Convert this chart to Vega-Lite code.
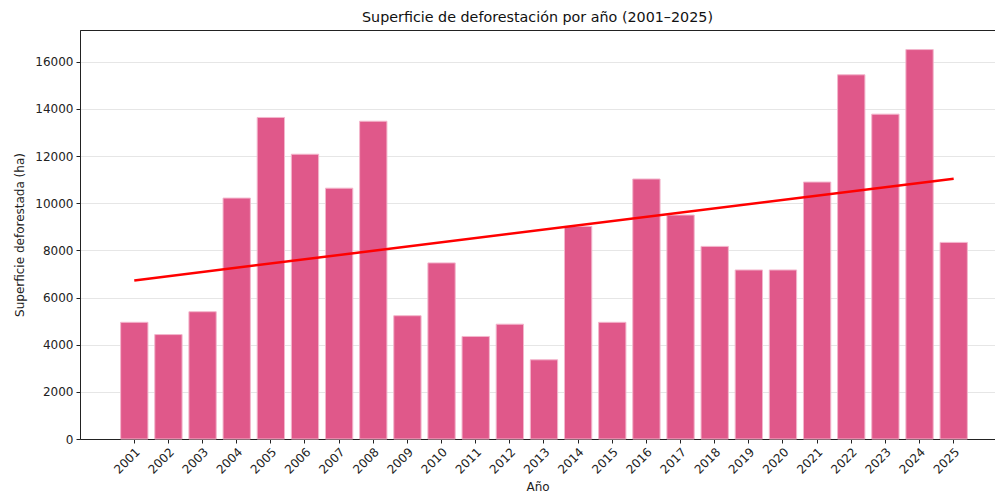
{
  "$schema": "https://vega.github.io/schema/vega-lite/v6.json",
  "width": 915,
  "height": 409,
  "autosize": {"type": "none"},
  "padding": {"left": 80, "top": 30, "right": 0, "bottom": 55},
  "background": "white",
  "config": {
    "font": "DejaVu Sans",
    "view": {"stroke": "#222", "strokeWidth": 1},
    "axis": {
      "labelFont": "DejaVu Sans",
      "titleFont": "DejaVu Sans",
      "labelFontSize": 12,
      "titleFontSize": 12,
      "titleFontWeight": "normal",
      "labelColor": "#222",
      "titleColor": "#222",
      "domainColor": "#222",
      "tickColor": "#222",
      "tickSize": 4,
      "labelPadding": 3
    }
  },
  "title": {
    "text": "Superficie de deforestación por año (2001–2025)",
    "font": "DejaVu Sans",
    "fontSize": 14.3,
    "fontWeight": "normal",
    "color": "#111",
    "offset": 5,
    "anchor": "middle"
  },
  "data": {
    "values": [
      {"year": 2001, "area": 4950},
      {"year": 2002, "area": 4430},
      {"year": 2003, "area": 5400},
      {"year": 2004, "area": 10220},
      {"year": 2005, "area": 13640},
      {"year": 2006, "area": 12080},
      {"year": 2007, "area": 10640},
      {"year": 2008, "area": 13480},
      {"year": 2009, "area": 5230},
      {"year": 2010, "area": 7470},
      {"year": 2011, "area": 4350},
      {"year": 2012, "area": 4870},
      {"year": 2013, "area": 3360},
      {"year": 2014, "area": 9020},
      {"year": 2015, "area": 4950},
      {"year": 2016, "area": 11030},
      {"year": 2017, "area": 9500},
      {"year": 2018, "area": 8170},
      {"year": 2019, "area": 7170},
      {"year": 2020, "area": 7170},
      {"year": 2021, "area": 10900},
      {"year": 2022, "area": 15450},
      {"year": 2023, "area": 13780},
      {"year": 2024, "area": 16520},
      {"year": 2025, "area": 8340}
    ]
  },
  "encoding": {
    "x": {
      "field": "year",
      "type": "ordinal",
      "title": "Año",
      "scale": {"paddingInner": 0.2, "paddingOuter": 1.044, "align": 0.595},
      "axis": {"labelAngle": -45, "labelAlign": "right", "labelBaseline": "top", "titlePadding": 6, "grid": false}
    },
    "y": {
      "field": "area",
      "type": "quantitative",
      "title": "Superficie deforestada (ha)",
      "scale": {"domain": [0, 17350], "nice": false},
      "axis": {"values": [0, 2000, 4000, 6000, 8000, 10000, 12000, 14000, 16000], "format": "d", "grid": true, "gridColor": "#e6e6e6", "gridWidth": 1, "titlePadding": 8}
    }
  },
  "layer": [
    {
      "mark": {"type": "bar", "color": "#E0588A", "stroke": "#f3b6cc", "strokeWidth": 1}
    },
    {
      "transform": [{"regression": "area", "on": "year", "method": "linear"}],
      "mark": {"type": "line", "color": "#ff0000", "strokeWidth": 2.5}
    }
  ]
}
